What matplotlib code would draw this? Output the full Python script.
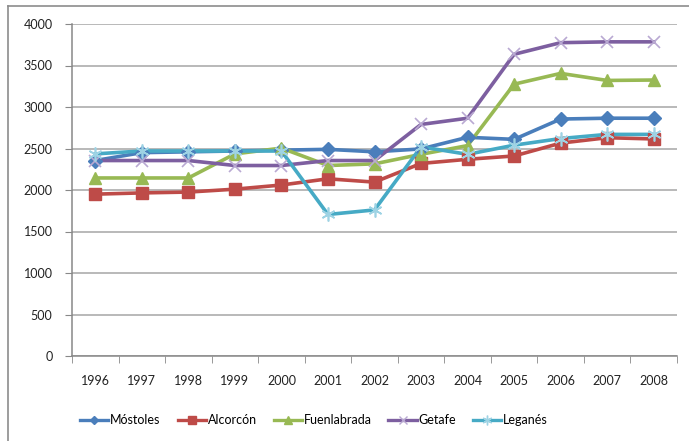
import matplotlib.pyplot as plt
from matplotlib.lines import Line2D

years = ['1996', '1997', '1998', '1999', '2000', '2001', '2002',
         '2003', '2004', '2005', '2006', '2007', '2008']

mostoles = [2355, 2450, 2460, 2470, 2480, 2490, 2460, 2495, 2635, 2610, 2855, 2865, 2865]
alcorcon = [1950, 1965, 1975, 2010, 2060, 2135, 2095, 2320, 2370, 2410, 2565, 2630, 2615]
fuenlabrada = [2145, 2145, 2145, 2435, 2505, 2295, 2315, 2430, 2535, 3275, 3405, 3320, 3325]
getafe = [2355, 2355, 2355, 2295, 2295, 2355, 2355, 2790, 2865, 3635, 3775, 3785, 3785]
leganes = [2435, 2470, 2470, 2470, 2470, 1705, 1760, 2520, 2430, 2540, 2620, 2670, 2670]

names = ['Móstoles', 'Alcorcón', 'Fuenlabrada', 'Getafe', 'Leganés']
series = [mostoles, alcorcon, fuenlabrada, getafe, leganes]
colors = ['#4A7EBB', '#BE4B48', '#98B954', '#7D5FA0', '#46AAC5']
marker_faces = ['#4A7EBB', '#BE4B48', '#98B954', '#B9A9D2', '#9ED3E4']
markers = ['D', 's', '^', 'x', (6, 2, 0)]
msizes = [7, 9, 9, 9, 10]

plt.rcParams['font.family'] = ['Lato', 'DejaVu Sans']

fig = plt.figure(figsize=(6.89, 4.41), dpi=100)
ax = fig.add_axes([72 / 689, 1 - 356 / 441, 605 / 689, 332 / 441])

x = list(range(len(years)))
handles = []
for vals, name, c, mf, m, ms in zip(series, names, colors, marker_faces, markers, msizes):
    ax.plot(x, vals, color=c, lw=2.6, zorder=3)
    ax.plot(x, vals, ls='none', marker=m, ms=ms, color=mf, mec=mf,
            mew=1.2 if m in ('x', (6, 2, 0)) else 1, zorder=4)
    handles.append(Line2D([], [], color=c, lw=2.4, marker=m, ms=ms - 3,
                          mfc=mf, mec=mf, mew=1.0))

ax.set_xlim(-0.5, len(years) - 0.5)
ax.set_ylim(0, 4000)
ax.set_yticks(range(0, 4001, 500))
ax.set_xticks(x)
ax.set_xticklabels(years)
ax.set_xticks([i - 0.5 for i in range(len(years) + 1)], minor=True)
ax.tick_params(axis='x', which='major', length=0, pad=14, labelsize=9, colors='#222222')
ax.tick_params(axis='x', which='minor', length=5, color='#888888', direction='out')
ax.tick_params(axis='y', length=5, color='#888888', labelsize=9, pad=9, colors='#222222')
ax.tick_params(axis='y', color='#888888')

ax.grid(axis='y', color='#A6A6A6', lw=1.1)
ax.set_axisbelow(True)
for side in ['top', 'right']:
    ax.spines[side].set_visible(False)
for side in ['left', 'bottom']:
    ax.spines[side].set_color('#888888')
    ax.spines[side].set_linewidth(1.1)

fig.legend(handles, names, loc='center', bbox_to_anchor=(314 / 689, 1 - 420 / 441),
           ncol=5, frameon=False, fontsize=9, handlelength=2.25,
           handletextpad=0.15, columnspacing=1.35)

# outer chart border
fig.add_artist(Line2D([8 / 689, 1], [1 - 6 / 441, 1 - 6 / 441],
                      transform=fig.transFigure, color='#8C8C8C', lw=1.2))
fig.add_artist(Line2D([8 / 689, 8 / 689], [0, 1 - 6 / 441],
                      transform=fig.transFigure, color='#8C8C8C', lw=1.2))

fig.savefig('out.png', dpi=100)
